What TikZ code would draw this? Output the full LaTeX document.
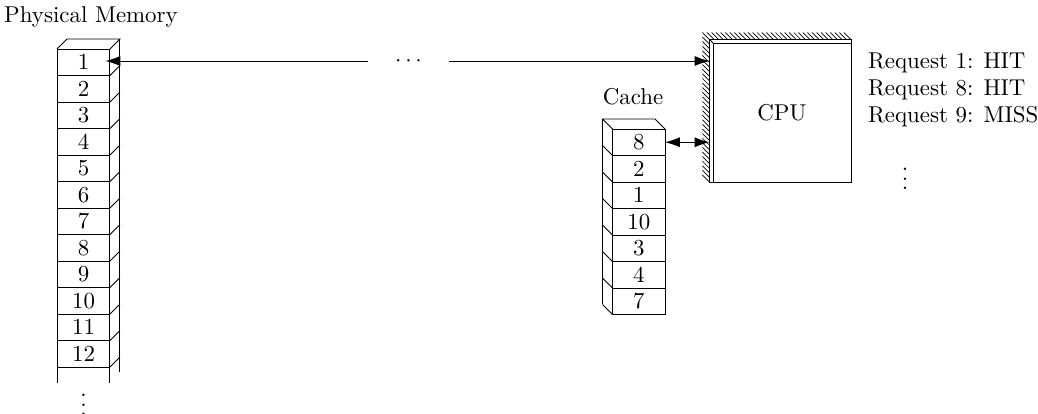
\documentclass[tikz,border=0pt]{standalone}
\usetikzlibrary{arrows.meta,calc}
\begin{document}
\begin{tikzpicture}[x=0.4367pt,y=-0.4367pt,
  every node/.style={inner sep=0pt,outer sep=0pt},
  cell/.style={draw,minimum width=23.1pt,minimum height=11.57pt},
  cachecell/.style={draw,minimum width=22.9pt,minimum height=11.57pt},
  tip/.style={-{Latex[length=6.5pt,width=4.4pt]}},
  dtip/.style={{Latex[length=6.5pt,width=4.4pt]}-{Latex[length=6.5pt,width=4.4pt]}},
  hatch/.style={line width=0.3pt}]
\useasboundingbox (0,0) rectangle (1038,414);

% ---------- physical memory stack ----------
\node (pmlabel) at (91,17) {Physical Memory};
\foreach \i in {1,...,12}{
  \node[cell] (m\i) at (83.5,{49+26.5*(\i-0.5)}) {\i};
  \draw (m\i.south east) -- ++(10,-10);
}
\draw (m1.north west) -- ++(10,-10) coordinate (mtl) -- ($(m1.north east)+(10,-10)$) coordinate (mtr) -- (m1.north east);
\draw (mtr) -- (mtr |- 0,372);
\draw (m12.south west) -- ++(0,16);
\draw (m12.south east) -- ++(0,16);
\node (mdots) at (83.5,398) {$\vdots$};

% ---------- cache stack ----------
\node (cachelabel) at (633,97) {Cache};
\foreach \v [count=\i] in {8,2,1,10,3,4,7}{
  \node[cachecell] (c\i) at (638.75,{129+26.5*(\i-0.5)}) {\v};
  \draw (c\i.south west) -- ++(-10,-10);
}
\draw (c1.north east) -- ++(-10,-10) coordinate (ctr) -- ($(c1.north west)+(-10,-10)$) coordinate (ctl) -- (c1.north west);
\draw (ctl) -- ($(c7.south west)+(-10,-10)$);

% ---------- CPU with hatched walls on top and left ----------
\node[draw,minimum width=60.3pt,minimum height=60.7pt] (cpu) at (782,112.5) {CPU};
\coordinate (wc) at ($(cpu.north west)+(-3.5,-3.5)$);
\draw (cpu.north west) -- (wc);
\draw (wc) -- (wc -| cpu.north east) -- (cpu.north east);
\draw (wc) -- (wc |- cpu.south west) -- (cpu.south west);
\foreach \i in {0,...,31}{
  \draw[hatch] ($(wc)+({\i*141.5/31},0)$) -- ++(-7,-7);
}
\foreach \i in {1,...,31}{
  \draw[hatch] ($(wc)+(0,{\i*142.5/31})$) -- ++(-7,-7);
}

% ---------- request log ----------
\node[anchor=west] (r1) at (868,63) {Request 1: HIT};
\node[anchor=west] (r2) at (868,90) {Request 8: HIT};
\node[anchor=west] (r3) at (868,117) {Request 9: MISS};
\node (rdots) at (905,172) {$\vdots$};

% ---------- connections ----------
\node[minimum width=35.4pt,minimum height=6pt] (bus) at (408.5,61) {$\cdots$};
\draw[tip,shorten >=-2pt] (bus.west) -- (bus.west -| m1.east);
\draw[tip] (bus.east) -- (bus.east -| wc);
\draw[dtip] (c1.east) -- (c1.east -| wc);
\end{tikzpicture}
\end{document}
